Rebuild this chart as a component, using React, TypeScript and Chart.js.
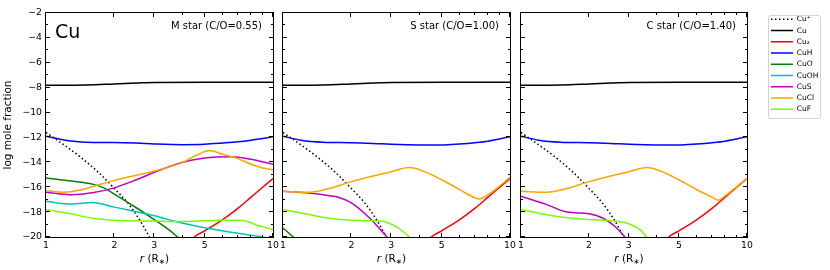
import React, { useEffect, useRef } from 'react';
import { Chart, registerables } from 'chart.js';
Chart.register(...registerables);

const FONT = 'DejaVu Sans';

// ---- ticks ----
const X_TICKS = [1, 2, 3, 5, 10];
const X_MINOR = [4, 6, 7, 8, 9];
const Y_MAJOR = [-20, -18, -16, -14, -12, -10, -8, -6, -4, -2];
const Y_MINOR = [-19, -17, -15, -13, -11, -9, -7, -5, -3];

// ---- species ----
const SPECIES = ['Cu\u207A', 'Cu', 'Cu\u2082', 'CuH', 'CuO', 'CuOH', 'CuS', 'CuCl', 'CuF'];
const COLORS = ['#000000', '#000000', '#ff0000', '#0000ff', '#008000', '#00bfbf', '#bf00bf', '#ffa500', '#7cfc00'];
const DASHES = [[1.5, 2.5], [], [], [], [], [], [], [], []];

const PANEL_TITLES = ['M star (C/O=0.55)', 'S star (C/O=1.00)', 'C star (C/O=1.40)'];

// ---- shared data ----
const CUP_R = [1, 1.2, 1.4, 1.7, 2.0, 2.3, 2.6, 2.85, 3.0];
const CUP_Y = [-11.6, -12.6, -13.5, -14.8, -16.1, -17.3, -18.7, -20.0, -20.9];
const CU_R = [1, 1.5, 2, 2.5, 3, 5, 10];
const CU_Y = [-7.8, -7.78, -7.7, -7.63, -7.58, -7.57, -7.57];
const CU2_R = [4.3, 4.5, 5, 6, 7, 8, 9, 10];
const CU2_Y = [-20.4, -20.0, -19.5, -18.6, -17.7, -16.8, -16.0, -15.3];
const CUH_R = [1, 1.2, 1.5, 2, 2.5, 3, 4, 5, 6, 7, 8, 10];
const M_CUH_Y = [-11.9, -12.2, -12.38, -12.4, -12.45, -12.52, -12.58, -12.55, -12.45, -12.35, -12.22, -11.95];
const SC_CUH_Y = [-11.9, -12.22, -12.38, -12.42, -12.48, -12.55, -12.6, -12.6, -12.52, -12.42, -12.3, -11.95];

// ---- M star ----
const M_CUO_R = [1, 1.3, 1.6, 1.8, 2, 2.5, 3, 3.5, 3.8, 4.0];
const M_CUO_Y = [-15.25, -15.5, -15.75, -16.05, -16.55, -17.65, -18.6, -19.45, -20.0, -20.3];
const M_CUOH_R = [1, 1.3, 1.6, 2, 3, 4, 5, 7, 9, 10];
const M_CUOH_Y = [-17.13, -17.35, -17.22, -17.6, -18.3, -18.9, -19.25, -19.7, -20.0, -20.2];
const M_CUS_R = [1, 1.3, 1.6, 2, 2.5, 3, 4, 5, 6.5, 8, 10];
const M_CUS_Y = [-16.4, -16.6, -16.45, -16.05, -15.4, -14.8, -14.0, -13.65, -13.55, -13.75, -14.15];
const M_CUCL_R = [1, 1.2, 1.4, 1.6, 2, 3, 4, 4.7, 5.25, 6, 7, 8, 9, 10];
const M_CUCL_Y = [-16.28, -16.4, -16.25, -15.95, -15.45, -14.7, -14.0, -13.35, -13.05, -13.35, -13.7, -14.15, -14.45, -14.6];
const M_CUF_R = [1, 1.3, 1.6, 2, 3, 4, 5, 6, 7, 7.7, 8.5, 10];
const M_CUF_Y = [-17.8, -18.15, -18.5, -18.65, -18.72, -18.75, -18.7, -18.65, -18.65, -18.75, -19.05, -19.4];

// ---- S star ----
const S_CUO_R = [1, 1.11, 1.2];
const S_CUO_Y = [-19.28, -20.0, -20.5];
const S_CUS_R = [1, 1.3, 1.6, 1.75, 2, 2.4, 2.87, 3.0];
const S_CUS_Y = [-16.33, -16.47, -16.68, -16.8, -17.25, -18.45, -20.0, -20.4];
const S_CUCL_R = [1, 1.3, 1.6, 2, 3, 3.6, 4, 5, 6, 7, 7.3, 8, 9, 10];
const S_CUCL_Y = [-16.33, -16.4, -16.1, -15.55, -14.75, -14.42, -14.6, -15.4, -16.2, -16.85, -16.95, -16.6, -15.9, -15.2];
const S_CUF_R = [1, 1.3, 1.6, 2, 2.7, 2.9, 3.2, 3.4, 3.6, 3.8];
const S_CUF_Y = [-17.8, -18.2, -18.5, -18.65, -18.72, -18.85, -19.25, -19.6, -20.0, -20.4];

// ---- C star ----
const C_CUS_R = [1, 1.3, 1.6, 2, 2.3, 2.6, 2.88, 3.0];
const C_CUS_Y = [-16.73, -17.4, -17.99, -18.13, -18.47, -19.14, -20.0, -20.4];
const C_CUCL_R = [1, 1.3, 1.6, 2, 3, 3.6, 4, 5, 6, 7, 7.45, 8, 9, 10];
const C_CUCL_Y = [-16.33, -16.4, -16.1, -15.55, -14.75, -14.42, -14.6, -15.4, -16.2, -16.8, -17.05, -16.7, -15.95, -15.3];
const C_CUF_R = [1, 1.5, 2, 2.56, 3, 3.36, 3.6, 3.8];
const C_CUF_Y = [-17.8, -18.4, -18.6, -18.71, -18.93, -19.41, -20.0, -20.4];

const EMPTY: number[] = [];

const PANEL_SERIES: number[][][][] = [
  [[CUP_R, CUP_Y], [CU_R, CU_Y], [CU2_R, CU2_Y], [CUH_R, M_CUH_Y], [M_CUO_R, M_CUO_Y], [M_CUOH_R, M_CUOH_Y], [M_CUS_R, M_CUS_Y], [M_CUCL_R, M_CUCL_Y], [M_CUF_R, M_CUF_Y]],
  [[CUP_R, CUP_Y], [CU_R, CU_Y], [CU2_R, CU2_Y], [CUH_R, SC_CUH_Y], [S_CUO_R, S_CUO_Y], [EMPTY, EMPTY], [S_CUS_R, S_CUS_Y], [S_CUCL_R, S_CUCL_Y], [S_CUF_R, S_CUF_Y]],
  [[CUP_R, CUP_Y], [CU_R, CU_Y], [CU2_R, CU2_Y], [CUH_R, SC_CUH_Y], [EMPTY, EMPTY], [EMPTY, EMPTY], [C_CUS_R, C_CUS_Y], [C_CUCL_R, C_CUCL_Y], [C_CUF_R, C_CUF_Y]],
];

// ---- layout ----
const W = 830;
const H = 270;
const PLOT_TOP = 13;
const PLOT_BOTTOM = 237;
const PANEL_X = [[46, 273], [283, 510], [521, 747]];
const LEGEND_LINE_LEFT = 771;
const LEGEND_FIRST_CENTER = 19.3;

const toPts = (r: number[], y: number[]) => r.map((v, i) => ({ x: v, y: y[i] }));
const fmtY = (v: number) => (v < 0 ? '\u2212' + Math.abs(v) : String(v));

const fitX = (h: number) => (s: any) => {
  s.height = h;
  s.paddingLeft = 0; s.paddingRight = 0; s.paddingTop = 0; s.paddingBottom = 0;
};
const fitY = (w: number) => (s: any) => {
  s.width = w;
  s.paddingLeft = 0; s.paddingRight = 0; s.paddingTop = 0; s.paddingBottom = 0;
};

const deco = {
  id: 'deco',
  afterDraw(chart: any, _args: any, o: any) {
    const { ctx, chartArea: a } = chart;
    const xs = chart.scales.x;
    const ys = chart.scales.y;
    ctx.save();
    ctx.strokeStyle = '#000';
    ctx.lineWidth = 1;
    ctx.setLineDash([]);
    ctx.strokeRect(a.left - 0.5, a.top - 0.5, a.right - a.left + 1, a.bottom - a.top + 1);
    const seg = (x1: number, y1: number, x2: number, y2: number) => {
      ctx.beginPath(); ctx.moveTo(x1, y1); ctx.lineTo(x2, y2); ctx.stroke();
    };
    const xt = (v: number, len: number) => {
      const px = Math.round(xs.getPixelForValue(v)) - 0.5;
      seg(px, a.bottom, px, a.bottom - len);
      seg(px, a.top, px, a.top + len);
    };
    const yt = (v: number, len: number) => {
      const py = Math.round(ys.getPixelForValue(v)) - 0.5;
      seg(a.left, py, a.left + len, py);
      seg(a.right, py, a.right - len, py);
    };
    X_TICKS.forEach((v) => xt(v, 4));
    X_MINOR.forEach((v) => xt(v, 2));
    Y_MAJOR.forEach((v) => yt(v, 4));
    Y_MINOR.forEach((v) => yt(v, 2));

    ctx.fillStyle = '#000';
    ctx.font = `10px "${FONT}"`;
    ctx.textAlign = 'right';
    ctx.textBaseline = 'alphabetic';
    ctx.fillText(o.title, a.right - 11, 28.5);
    if (o.big) {
      ctx.font = `19px "${FONT}"`;
      ctx.textAlign = 'left';
      ctx.fillText(o.big, a.left + 9, 38);
    }
    const base = 261.5;
    const parts: [string, string, number][] = [
      ['r', `italic 10.5px "${FONT}"`, 0],
      [' (R', `10.5px "${FONT}"`, 0],
      ['\u2217', `7.5px "${FONT}"`, 2.5],
      [')', `10.5px "${FONT}"`, 0],
    ];
    let total = 0;
    parts.forEach(([t, f]) => { ctx.font = f; total += ctx.measureText(t).width; });
    let cx = (a.left + a.right) / 2 - 5 - total / 2;
    ctx.textAlign = 'left';
    parts.forEach(([t, f, dy]) => {
      ctx.font = f;
      ctx.fillText(t, cx, base + dy);
      cx += ctx.measureText(t).width;
    });
    if (o.ytitle) {
      ctx.translate(8, (a.top + a.bottom) / 2);
      ctx.rotate(-Math.PI / 2);
      ctx.font = `10.5px "${FONT}"`;
      ctx.textAlign = 'center';
      ctx.textBaseline = 'middle';
      ctx.fillText(o.ytitle, 0, 0);
    }
    ctx.restore();
  },
};

const legendFrame = {
  id: 'legendFrame',
  afterDraw(chart: any) {
    const hb = chart.legend && chart.legend.legendHitBoxes;
    if (!hb || !hb.length) return;
    const { ctx } = chart;
    const l = Math.min(...hb.map((h: any) => h.left)) - 3;
    const r = Math.max(...hb.map((h: any) => h.left + h.width)) + 2;
    const c0 = hb[0].top + hb[0].height / 2;
    const c1 = hb[hb.length - 1].top + hb[hb.length - 1].height / 2;
    const t = c0 - 4.5;
    const b = c1 + 8;
    ctx.save();
    ctx.strokeStyle = '#d4d4d4';
    ctx.lineWidth = 1;
    ctx.setLineDash([]);
    ctx.beginPath();
    if (ctx.roundRect) ctx.roundRect(Math.round(l) + 0.5, Math.round(t) + 0.5, Math.round(r - l), Math.round(b - t), 2);
    else ctx.rect(Math.round(l) + 0.5, Math.round(t) + 0.5, Math.round(r - l), Math.round(b - t));
    ctx.stroke();
    ctx.restore();
  },
};

function makePanel(canvas: HTMLCanvasElement, i: number) {
  const [L, R] = PANEL_X[i];
  const yw = i === 0 ? L : 0;
  const series = PANEL_SERIES[i];
  return new Chart(canvas, {
    type: 'line',
    data: {
      datasets: SPECIES.map((s, k) => ({
        label: s,
        data: toPts(series[k][0], series[k][1]),
        borderColor: COLORS[k],
        backgroundColor: COLORS[k],
        borderWidth: 1.5,
        borderDash: DASHES[k],
        pointRadius: 0,
        cubicInterpolationMode: 'monotone',
        fill: false,
        order: -k,
      })),
    },
    options: {
      responsive: false,
      animation: false,
      devicePixelRatio: 1,
      events: [],
      layout: { padding: { left: L - yw, right: W - R, top: PLOT_TOP, bottom: 0 } },
      plugins: {
        legend: { display: false },
        tooltip: { enabled: false },
        deco: { title: PANEL_TITLES[i], big: i === 0 ? 'Cu' : '', ytitle: i === 0 ? 'log mole fraction' : '' },
      } as any,
      scales: {
        x: {
          type: 'logarithmic',
          min: 1,
          max: 10,
          afterFit: fitX(H - PLOT_BOTTOM),
          afterBuildTicks: (s: any) => { s.ticks = X_TICKS.map((v) => ({ value: v })); },
          grid: { display: false, drawTicks: false },
          border: { display: false },
          ticks: {
            color: '#000',
            font: { family: FONT, size: 9.3 },
            padding: 3,
            autoSkip: false,
            maxRotation: 0,
            minRotation: 0,
            callback: (v: any) => String(v),
          },
        },
        y: {
          type: 'linear',
          min: -20,
          max: -2,
          afterFit: fitY(yw),
          grid: { display: false, drawTicks: false },
          border: { display: false },
          ticks: {
            display: i === 0,
            stepSize: 2,
            color: '#000',
            font: { family: FONT, size: 9.3 },
            padding: 4,
            callback: (v: any) => fmtY(Number(v)),
          },
        },
      } as any,
    },
    plugins: [deco],
  } as any);
}

function makeLegend(canvas: HTMLCanvasElement) {
  const chart: any = new Chart(canvas, {
    type: 'line',
    data: {
      datasets: SPECIES.map((s, k) => ({
        label: s,
        data: [],
        borderColor: COLORS[k],
        backgroundColor: COLORS[k],
        borderWidth: 1.5,
        borderDash: DASHES[k],
      })),
    },
    options: {
      responsive: false,
      animation: false,
      devicePixelRatio: 1,
      events: [],
      layout: { padding: { left: 0, top: 12, right: 2, bottom: 0 } },
      scales: { x: { display: false }, y: { display: false } },
      plugins: {
        tooltip: { enabled: false },
        legend: {
          display: true,
          position: 'right',
          align: 'start',
          labels: {
            usePointStyle: true,
            pointStyle: 'line',
            pointStyleWidth: 22,
            padding: 3.75,
            color: '#000',
            font: { family: FONT, size: 7.5 },
            generateLabels: (c: any) => {
              const items = (Chart.defaults.plugins.legend.labels as any).generateLabels(c);
              return items.map((it: any, i: number) => ({
                ...it,
                lineDash: DASHES[i],
                lineWidth: 1.5,
                strokeStyle: COLORS[i],
                fillStyle: COLORS[i],
                pointStyle: 'line',
                fontColor: '#000',
              }));
            },
          },
        },
      },
    } as any,
    plugins: [legendFrame],
  } as any);
  const hb = chart.legend && chart.legend.legendHitBoxes;
  if (hb && hb.length) {
    const dx = LEGEND_LINE_LEFT - hb[0].left;
    const dy = LEGEND_FIRST_CENTER - (hb[0].top + hb[0].height / 2);
    const p = chart.options.layout.padding;
    p.right = p.right - dx;
    p.top = p.top + dy;
    chart.update();
  }
  return chart;
}

export default function App() {
  const r0 = useRef<HTMLCanvasElement>(null);
  const r1 = useRef<HTMLCanvasElement>(null);
  const r2 = useRef<HTMLCanvasElement>(null);
  const rl = useRef<HTMLCanvasElement>(null);
  useEffect(() => {
    const charts = [
      makePanel(r0.current!, 0),
      makePanel(r1.current!, 1),
      makePanel(r2.current!, 2),
      makeLegend(rl.current!),
    ];
    return () => charts.forEach((c) => c.destroy());
  }, []);
  const cs: React.CSSProperties = { position: 'absolute', left: 0, top: 0, width: W, height: H };
  return (
    <div style={{ position: 'absolute', left: 0, top: 0, width: W, height: H, background: '#fff' }}>
      <canvas ref={r0} width={W} height={H} style={cs} />
      <canvas ref={r1} width={W} height={H} style={cs} />
      <canvas ref={r2} width={W} height={H} style={cs} />
      <canvas ref={rl} width={W} height={H} style={cs} />
    </div>
  );
}
